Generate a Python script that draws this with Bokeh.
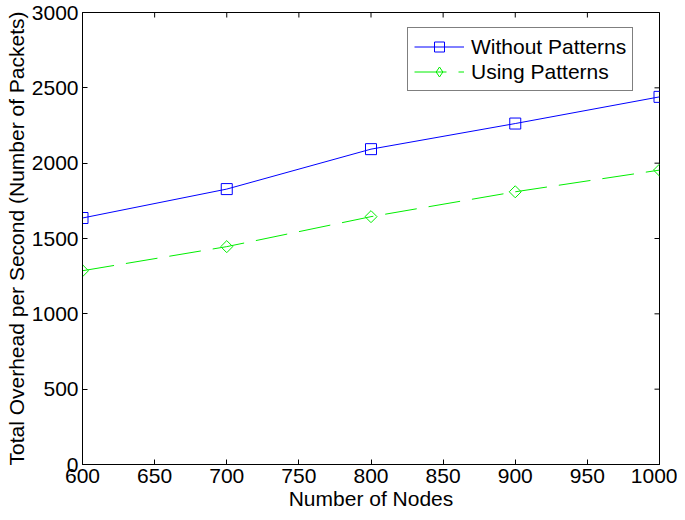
import math
from bokeh.plotting import figure
from bokeh.models import Range1d, Legend, LegendItem, FixedTicker
from bokeh.embed import file_html
from bokeh.resources import INLINE

nodes = [600, 700, 800, 900, 1000]
without_patterns = [1636, 1828, 2093, 2263, 2440]
using_patterns = [1286, 1446, 1645, 1810, 1954]
x_ticks = [600, 650, 700, 750, 800, 850, 900, 950, 1000]
y_ticks = [0, 500, 1000, 1500, 2000, 2500, 3000]

FONT = "Liberation Sans"
FS = "21px"

p = figure(frame_width=577, frame_height=452,
           min_border_left=82, min_border_right=18, min_border_top=12, min_border_bottom=50,
           x_range=Range1d(x_ticks[0], x_ticks[-1]), y_range=Range1d(y_ticks[0], y_ticks[-1]),
           output_backend="svg", toolbar_location=None)

p.xgrid.visible = False
p.ygrid.visible = False
p.outline_line_color = "black"
p.outline_line_alpha = 1
p.outline_line_width = 1

def style_axis(ax, ticks):
    ax.ticker = FixedTicker(ticks=ticks)
    ax.major_tick_in = 5
    ax.major_tick_out = 0
    ax.minor_tick_line_color = None
    ax.axis_line_color = "black"
    ax.major_tick_line_color = "black"
    ax.major_label_text_font = FONT
    ax.major_label_text_color = "black"
    ax.major_label_text_font_size = FS
    ax.major_label_standoff = 4
    ax.axis_label_text_font = FONT
    ax.axis_label_text_font_style = "normal"
    ax.axis_label_text_color = "black"
    ax.axis_label_text_font_size = FS
    ax.axis_label_standoff = 1

xa = p.xaxis[0]
ya = p.yaxis[0]
style_axis(xa, x_ticks)
style_axis(ya, y_ticks)
xa.axis_label = "Number of Nodes"
ya.axis_label = "Total Overhead per Second (Number of Packets)"

# inward ticks on the top and right edges of the box (clipped to the frame)
p.scatter(x_ticks, [y_ticks[-1]] * len(x_ticks), marker="dash", angle=math.pi / 2,
          size=10, line_color="black", line_width=1)
p.scatter([x_ticks[-1]] * len(y_ticks), y_ticks, marker="dash", angle=0,
          size=10, line_color="black", line_width=1)

blue = "#0000ff"
green = "#00ee00"

l1 = p.line(nodes, without_patterns, line_color=blue, line_width=1)
s1 = p.scatter(nodes, without_patterns, marker="square", size=11,
               line_color=blue, fill_color=None, line_width=1)
l2 = p.line(nodes, using_patterns, line_color=green, line_width=1, line_dash="32 12")
s2 = p.scatter(nodes, using_patterns, marker="square", angle=math.pi / 4, size=8.5,
               line_color=green, fill_color=None, line_width=1)
# diamond used only for the legend sample
s2_leg = p.scatter(nodes, using_patterns, marker="diamond", size=10,
                   line_color=green, fill_color=None, line_width=1, visible=False)

legend = Legend(items=[LegendItem(label="Without Patterns", renderers=[l1, s1]),
                       LegendItem(label="Using Patterns", renderers=[l2, s2_leg])],
                location=(325, 373))
legend.label_text_font = FONT
legend.label_text_font_size = FS
legend.label_text_color = "black"
legend.glyph_width = 50
legend.glyph_height = 25
legend.label_standoff = 7
legend.padding = 6
legend.spacing = 0
legend.margin = 0
legend.border_line_color = "black"
legend.border_line_width = 1
legend.background_fill_color = "white"
legend.background_fill_alpha = 1
p.add_layout(legend)

open("out.html", "w").write(file_html(p, INLINE))
